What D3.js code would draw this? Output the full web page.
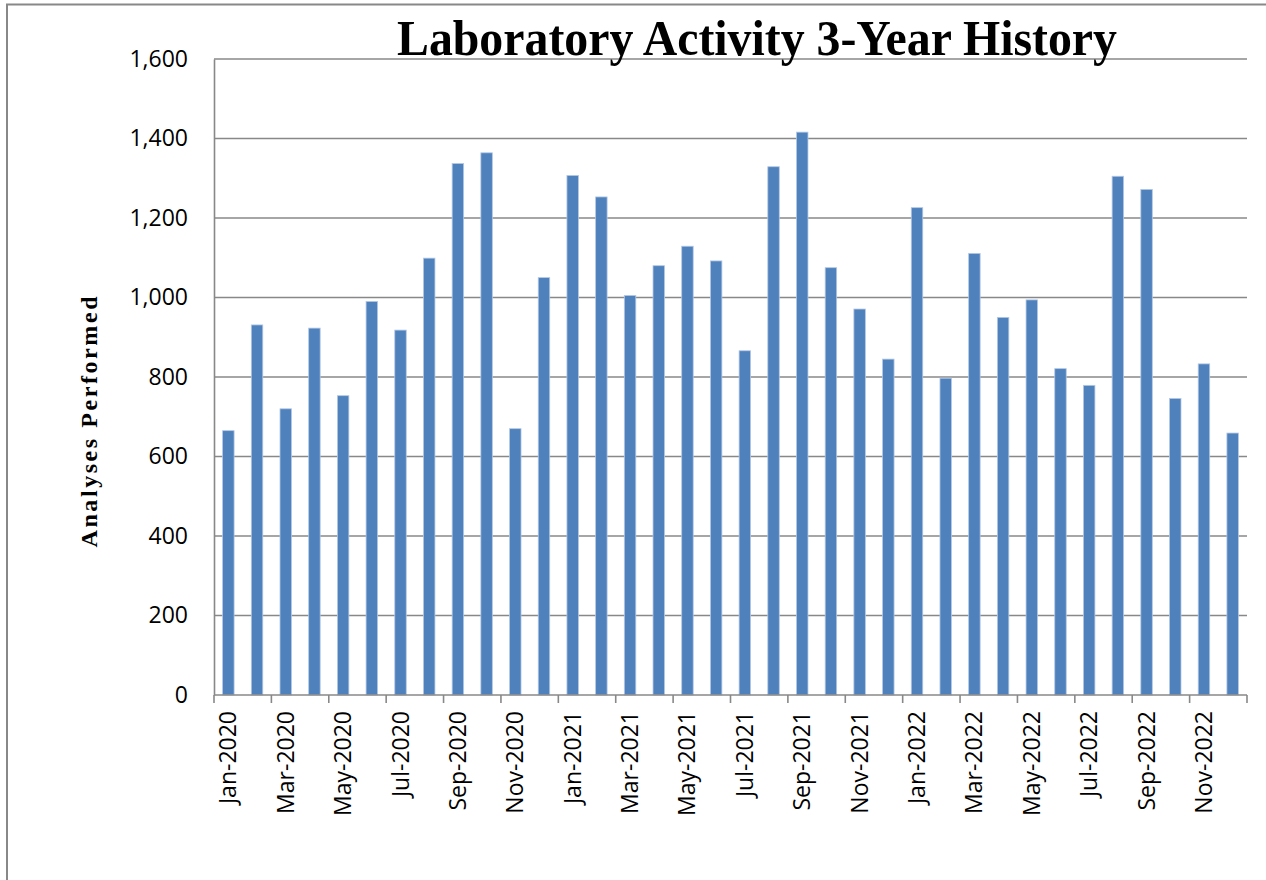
<!DOCTYPE html>
<html>
<head>
<meta charset="utf-8">
<script src="https://cdn.jsdelivr.net/npm/d3@7"></script>
<style>
  html, body { margin: 0; padding: 0; background: #fff; }
  svg { display: block; }
</style>
</head>
<body>
<svg id="chart" width="1266" height="880"></svg>
<script>
const categories = [
  "Jan-2020","Feb-2020","Mar-2020","Apr-2020","May-2020","Jun-2020","Jul-2020","Aug-2020","Sep-2020","Oct-2020","Nov-2020","Dec-2020",
  "Jan-2021","Feb-2021","Mar-2021","Apr-2021","May-2021","Jun-2021","Jul-2021","Aug-2021","Sep-2021","Oct-2021","Nov-2021","Dec-2021",
  "Jan-2022","Feb-2022","Mar-2022","Apr-2022","May-2022","Jun-2022","Jul-2022","Aug-2022","Sep-2022","Oct-2022","Nov-2022","Dec-2022"
];
const analyses = [
  665, 931, 720, 923, 753, 990, 918, 1099, 1337, 1364, 670, 1050,
  1307, 1253, 1005, 1080, 1129, 1092, 866, 1329, 1416, 1075, 971, 845,
  1226, 797, 1111, 950, 994, 821, 779, 1305, 1272, 746, 833, 659
];
const yTicks = [0, 200, 400, 600, 800, 1000, 1200, 1400, 1600];
const titleText = "Laboratory Activity 3-Year History";
const yTitle = "Analyses Performed";

(function () {
const svg = d3.select("#chart");
const pLeft = 214, pRight = 1247, pTop = 59, pBottom = 695;
const gray = "#888888";

// outer frame
svg.append("path").attr("d", "M7,880 L7,4.5 L1266,4.5")
  .attr("fill", "none").attr("stroke", gray).attr("stroke-width", 2);

const x = d3.scaleBand().domain(categories).range([pLeft, pRight])
  .paddingInner(0.6).paddingOuter(0.3);
const y = d3.scaleLinear().domain([0, 1600]).range([pBottom, pTop]);

// gridlines
svg.append("g").selectAll("line").data(yTicks.filter(d => d > 0)).join("line")
  .attr("x1", pLeft).attr("x2", pRight)
  .attr("y1", d => y(d)).attr("y2", d => y(d))
  .attr("stroke", gray).attr("stroke-width", 1.6);

// bars
svg.append("g").selectAll("rect").data(analyses).join("rect")
  .attr("x", (d, i) => x(categories[i]))
  .attr("y", d => y(d))
  .attr("width", x.bandwidth())
  .attr("height", d => y(0) - y(d))
  .attr("fill", "#4F81BD")
  .attr("stroke", "#B4C8E4")
  .attr("stroke-width", 0.8);

// y axis
const yAxis = d3.axisLeft(y).tickValues(yTicks).tickSize(0).tickPadding(26)
  .tickFormat(d3.format(","));
const gy = svg.append("g").attr("transform", `translate(${pLeft},0)`).call(yAxis);
gy.select(".domain").attr("stroke", gray).attr("stroke-width", 1.6);
gy.selectAll("text").attr("font-family", "'Open Sans', 'Liberation Sans', sans-serif")
  .attr("font-size", 23).attr("fill", "#000");

// x axis
const step = x.step();
const gap = (step - x.bandwidth()) / 2;
const tickPos = d3.range(0, categories.length + 1, 2).map(i =>
  i < categories.length ? x(categories[i]) - gap : pRight);
const gx = svg.append("g");
gx.append("line").attr("x1", pLeft).attr("x2", pRight).attr("y1", pBottom).attr("y2", pBottom)
  .attr("stroke", gray).attr("stroke-width", 1.6);
gx.selectAll("line.tick").data(tickPos).join("line").attr("class", "tick")
  .attr("x1", d => d).attr("x2", d => d).attr("y1", pBottom).attr("y2", pBottom + 8)
  .attr("stroke", gray).attr("stroke-width", 1.6);
gx.selectAll("text").data(categories.filter((c, i) => i % 2 === 0)).join("text")
  .attr("transform", d => `translate(${x(d) + x.bandwidth() / 2 + 8},${pBottom + 16}) rotate(-90)`)
  .attr("text-anchor", "end")
  .attr("font-family", "'Open Sans', 'Liberation Sans', sans-serif")
  .attr("font-size", 23).attr("fill", "#000")
  .text(d => d);

// title
svg.append("text")
  .attr("x", 757).attr("y", 55)
  .attr("text-anchor", "middle")
  .attr("font-family", "'Liberation Serif', 'Times New Roman', serif")
  .attr("font-weight", "bold").attr("font-size", 51)
  .attr("textLength", 720).attr("lengthAdjust", "spacingAndGlyphs")
  .text(titleText);

// y title
svg.append("text")
  .attr("transform", "translate(97,422) rotate(-90)")
  .attr("text-anchor", "middle")
  .attr("font-family", "'Liberation Serif', 'Times New Roman', serif")
  .attr("font-weight", "bold").attr("font-size", 24)
  .attr("textLength", 251).attr("lengthAdjust", "spacing")
  .text(yTitle);
})();
</script>
</body>
</html>
